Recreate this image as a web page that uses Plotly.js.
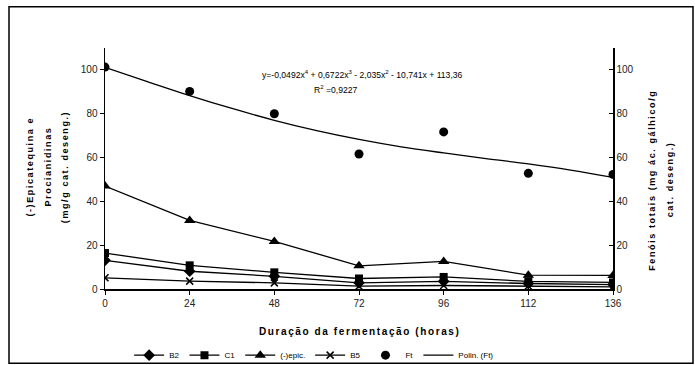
<!DOCTYPE html>
<html>
<head>
<meta charset="utf-8">
<script src="https://cdn.plot.ly/plotly-3.0.1.min.js"></script>
<style>
html,body{margin:0;padding:0;background:#fff;}
#chart{width:695px;height:365px;}
.spaced text{letter-spacing:1.6px;}
</style>
</head>
<body>
<div id="chart"></div>
<script>
var hours = ['0', '24', '48', '72', '96', '112', '136'];
var pos = [0, 1, 2, 3, 4, 5, 6];
var b2 = [13.1, 8.1, 5.8, 2.8, 3.5, 2.5, 2.0];
var c1 = [16.4, 10.8, 7.6, 4.8, 5.5, 3.5, 3.0];
var epic = [47.0, 31.3, 21.7, 10.6, 12.6, 6.3, 6.2];
var b5 = [5.1, 3.6, 2.8, 1.3, 1.6, 1.4, 1.0];
var ft = [101.3, 90.2, 80.0, 61.6, 71.7, 52.8, 52.3];
var polyPos = [0, 0.5, 1, 1.5, 2, 2.5, 3, 3.5, 4, 4.5, 5, 5.5, 6];
var polyFt = [101.2, 94.7, 88.3, 82.4, 77.0, 72.3, 68.3, 64.9, 62.1, 59.5, 57.1, 54.3, 50.9];
var leftTitle = ['(-)Epicatequina e', 'Procianidinas', '(mg/g cat. deseng.)'];
var rightTitle = ['Fenóis totais (mg ác. gálhico/g', 'cat. deseng.)'];

var ln = {color: '#000', width: 1.3};
var traces = [
  {x: pos, y: b2, name: 'B2', mode: 'lines+markers', line: ln, marker: {symbol: 'diamond', size: 9, color: '#000'}},
  {x: pos, y: c1, name: 'C1', mode: 'lines+markers', line: ln, marker: {symbol: 'square', size: 8, color: '#000'}},
  {x: pos, y: epic, name: '(-)epic.', mode: 'lines+markers', line: ln, marker: {symbol: 'triangle-up', size: 10, color: '#000'}},
  {x: pos, y: b5, name: 'B5', mode: 'lines+markers', line: ln, marker: {symbol: 'x-thin', size: 7, color: '#000', line: {color: '#000', width: 1.5}}},
  {x: pos, y: ft, name: 'Ft', mode: 'markers', yaxis: 'y2', marker: {symbol: 'circle', size: 9, color: '#000'}},
  {x: polyPos, y: polyFt, name: 'Polin. (Ft)', mode: 'lines', yaxis: 'y2', line: {color: '#000', width: 1.3, shape: 'spline'}}
];

var FAM = 'Liberation Sans, Arial, sans-serif';
var fnt = {family: FAM, size: 10, color: '#222'};
var ttlFont = {family: FAM, size: 9, color: '#000'};
var annotations = [
  {xref: 'paper', yref: 'paper', x: 0.507, y: 1.0, xanchor: 'center', yanchor: 'middle', yshift: -26, showarrow: false,
   text: 'y=-0,0492x<sup>4</sup> + 0,6722x<sup>3</sup> - 2,035x<sup>2</sup> - 10,741x + 113,36', font: {family: FAM, size: 8.6, color: '#000'}},
  {xref: 'paper', yref: 'paper', x: 0.453, y: 1.0, xanchor: 'center', yanchor: 'middle', yshift: -41, showarrow: false,
   text: 'R<sup>2</sup> =0,9227', font: {family: FAM, size: 8.6, color: '#000'}},
  {xref: 'paper', yref: 'paper', x: 0.5, y: 0, xanchor: 'center', yanchor: 'middle', yshift: -42.5, showarrow: false,
   text: '<b>Duração da fermentação (horas)</b>', font: {family: FAM, size: 10, color: '#000'}}
];
var leftX = [30, 48, 65];
leftTitle.forEach(function (t, i) {
  annotations.push({xref: 'paper', yref: 'paper', x: (leftX[i] - 105) / 508, y: (289.5 - 167) / 242,
    xanchor: 'center', yanchor: 'middle', textangle: -90, showarrow: false,
    text: '<b>' + t + '</b>', font: ttlFont});
});
var rightX = [652, 670];
rightTitle.forEach(function (t, i) {
  annotations.push({xref: 'paper', yref: 'paper', x: (rightX[i] - 105) / 508, y: (289.5 - 180) / 242,
    xanchor: 'center', yanchor: 'middle', textangle: -90, showarrow: false,
    text: '<b>' + t + '</b>', font: ttlFont});
});

var layout = {
  width: 695, height: 365,
  margin: {l: 105, r: 82, t: 47.5, b: 75.5},
  paper_bgcolor: '#fff', plot_bgcolor: '#fff',
  font: fnt,
  showlegend: true,
  legend: {orientation: 'h', xref: 'container', yref: 'container', x: 0.452, xanchor: 'center', y: 0.027, yanchor: 'middle',
    font: {family: FAM, size: 8, color: '#000'}, itemwidth: 30, tracegroupgap: 0, bgcolor: 'rgba(0,0,0,0)'},
  xaxis: {
    range: [0, 6], tickvals: pos, ticktext: hours, showgrid: false, zeroline: false,
    showline: true, linecolor: '#000', linewidth: 1.5, ticks: 'outside', ticklen: 4, tickcolor: '#000',
    tickfont: fnt
  },
  yaxis: {
    range: [0, 110], tickvals: [0, 20, 40, 60, 80, 100], showgrid: false, zeroline: false,
    showline: true, linecolor: '#000', linewidth: 1.5, ticks: 'outside', ticklen: 4, tickcolor: '#000',
    tickfont: fnt
  },
  yaxis2: {
    overlaying: 'y', side: 'right', range: [0, 110], tickvals: [0, 20, 40, 60, 80, 100], showgrid: false, zeroline: false,
    showline: true, linecolor: '#000', linewidth: 1.5, ticks: 'inside', ticklen: 4, tickcolor: '#000',
    tickfont: fnt
  },
  annotations: annotations,
  shapes: [
    {type: 'rect', xref: 'paper', yref: 'paper', x0: (9 - 105) / 508, x1: (693 - 105) / 508, y0: (289.5 - 364) / 242, y1: (289.5 - 6) / 242,
     line: {color: '#000', width: 1.5}, fillcolor: 'rgba(0,0,0,0)'}
  ]
};
Plotly.newPlot('chart', traces, layout, {displayModeBar: false, staticPlot: true}).then(function () {
  var anns = document.querySelectorAll('.annotation');
  for (var i = 2; i < anns.length; i++) { anns[i].classList.add('spaced'); }
});
</script>
</body>
</html>
